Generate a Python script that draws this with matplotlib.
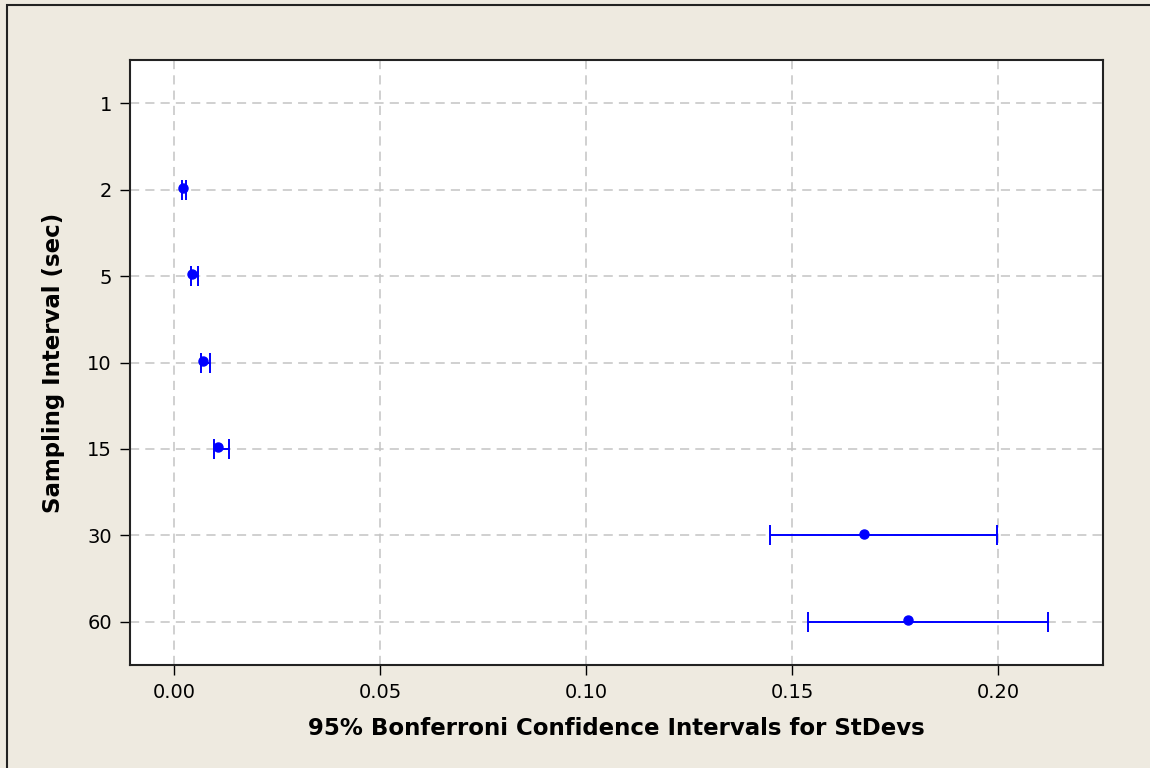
import matplotlib
matplotlib.use('Agg')

import matplotlib.pyplot as plt
import numpy as np
from matplotlib.patches import Rectangle

# Sampling intervals (sec) and Bonferroni CI for the standard deviations
intervals = ['1', '2', '5', '10', '15', '30', '60']
stdev = [np.nan, 0.0022, 0.0044, 0.0071, 0.0106, 0.1674, 0.1780]
ci_low = [np.nan, 0.0020, 0.0041, 0.0065, 0.0097, 0.1447, 0.1537]
ci_high = [np.nan, 0.0030, 0.0057, 0.0088, 0.0134, 0.1997, 0.2121]
x_ticks = [0.00, 0.05, 0.10, 0.15, 0.20]

bg = '#EEEAE0'
blue = '#0000FF'

fig = plt.figure(figsize=(11.5, 7.68), dpi=100, facecolor=bg)

# frame around the whole graph (runs off the right/bottom edges)
fig.patches.append(Rectangle((7 / 1150, -0.05), 1.2, 1 - 5 / 768 + 0.05,
                             transform=fig.transFigure, fill=False,
                             edgecolor='#222222', linewidth=1.5))

ax = fig.add_axes([130 / 1150, 1 - 665 / 768, (1103 - 130) / 1150, (665 - 60) / 768])
ax.set_facecolor('white')

y = np.arange(len(intervals))
stdev = np.array(stdev)
lo = stdev - np.array(ci_low)
hi = np.array(ci_high) - stdev

ax.errorbar(stdev, y, xerr=[lo, hi], fmt='none', ecolor=blue,
            elinewidth=1.4, capsize=7, capthick=1.4, zorder=3)
ax.plot(stdev, y - 0.02, 'o', color=blue, markersize=6.5, zorder=4)

ax.set_yticks(y)
ax.set_yticklabels(intervals)
ax.set_ylim(6.5, -0.5)
ax.set_xticks(x_ticks)
ax.set_xticklabels([f'{v:.2f}' for v in x_ticks])
ax.set_xlim(-0.0107, 0.2254)

ax.grid(True, color='#C4C4C4', linestyle=(0, (6, 4)), linewidth=1.1, zorder=0)
ax.set_axisbelow(True)
ax.tick_params(axis='both', direction='out', length=7, width=1,
               labelsize=14, colors='black', pad=6)
for s in ax.spines.values():
    s.set_linewidth(1.5)
    s.set_color('#222222')

ax.set_xlabel('95% Bonferroni Confidence Intervals for StDevs',
              fontsize=16.5, fontweight='bold', labelpad=11)
ax.set_ylabel('Sampling Interval (sec)', fontsize=16.5, fontweight='bold', labelpad=16)

plt.savefig('out.png', facecolor=fig.get_facecolor())
plt.close()
